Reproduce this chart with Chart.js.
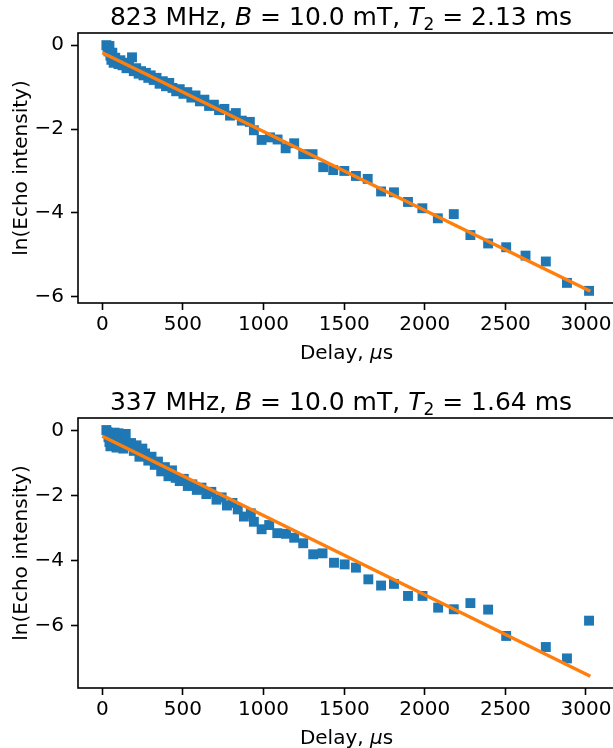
<!DOCTYPE html>
<html lang="en">
<head>
<meta charset="UTF-8">
<title>Echo decay, 823 MHz and 337 MHz</title>
<script src="https://cdn.jsdelivr.net/npm/chart.js"></script>
<style>
  body { margin: 0; width: 613px; height: 748px; overflow: hidden; background: #fff; position: relative;
         font-family: "DejaVu Sans", sans-serif; color: #000; }
  .panel { position: absolute; left: 0; width: 616px; height: 385px; }
  .panel canvas { position: absolute; left: 0; top: 0; }
  .title { position: absolute; left: 78px; width: 526px; top: 4px; text-align: center;
           font-size: 25px; line-height: 25px; white-space: nowrap; }
  .title sub { font-size: 17px; line-height: 0; vertical-align: -5px; }
  .xlabel { position: absolute; left: 78px; width: 537px; top: 342px; text-align: center;
            font-size: 20px; line-height: 20px; white-space: nowrap; }
</style>
</head>
<body>
<div class="panel" style="top:0">
  <canvas id="chart823" width="616" height="385"></canvas>
  <div class="title">823 MHz, <i>B</i> = 10.0 mT, <i>T</i><sub>2</sub> = 2.13 ms</div>
  <div class="xlabel">Delay, <i>μ</i>s</div>
</div>
<div class="panel" style="top:385px">
  <canvas id="chart337" width="616" height="385"></canvas>
  <div class="title">337 MHz, <i>B</i> = 10.0 mT, <i>T</i><sub>2</sub> = 1.64 ms</div>
  <div class="xlabel">Delay, <i>μ</i>s</div>
</div>

<script>
// measured echo decays (delay in us, ln of echo intensity)
const delays823 = [25, 32, 38, 44, 50, 56, 62, 70, 80, 90, 100, 112, 125, 138, 150, 165, 184, 195, 210, 225,
  240, 255, 270, 285, 300, 318, 336, 355, 375, 395, 415, 435, 458, 480, 503, 527, 552, 578, 605, 633,
  662, 692, 724, 757, 792, 828, 865, 915, 940, 988, 1040, 1087, 1137, 1190, 1246, 1304, 1370, 1432,
  1501, 1573, 1646, 1729, 1809, 1896, 1985, 2081, 2180, 2283, 2393, 2505, 2625, 2751, 2882, 3019];
const lnEcho823 = [0.00, -0.05, -0.15, -0.02, -0.25, -0.35, -0.18, -0.42, -0.30, -0.38, -0.45, -0.36, -0.48, -0.42,
  -0.55, -0.50, -0.29, -0.62, -0.55, -0.68, -0.62, -0.72, -0.66, -0.78, -0.72, -0.83, -0.78, -0.92, -0.86,
  -0.98, -0.90, -1.02, -1.10, -1.05, -1.16, -1.12, -1.25, -1.20, -1.34, -1.30, -1.45, -1.42, -1.55, -1.52,
  -1.68, -1.62, -1.80, -1.83, -2.03, -2.26, -2.20, -2.25, -2.46, -2.34, -2.60, -2.60, -2.91, -2.98,
  -3.00, -3.12, -3.19, -3.49, -3.51, -3.74, -3.89, -4.13, -4.03, -4.53, -4.73, -4.82, -5.02, -5.16, -5.67, -5.86];

const delays337 = [25, 32, 38, 44, 50, 56, 65, 76, 88, 100, 115, 130, 145, 160, 178, 195, 212, 230, 248, 265,
  285, 305, 325, 345, 365, 388, 410, 432, 455, 480, 505, 530, 558, 586, 615, 645, 676, 708, 740, 773,
  807, 840, 878, 921, 940, 988, 1035, 1085, 1139, 1190, 1246, 1308, 1366, 1437, 1503, 1573, 1650,
  1729, 1809, 1896, 1986, 2083, 2180, 2283, 2393, 2505, 2751, 2882, 3019];
const lnEcho337 = [0.02, -0.05, -0.20, -0.35, -0.48, -0.12, -0.28, -0.06, -0.52, -0.08, -0.30, -0.55, -0.10, -0.40,
  -0.38, -0.62, -0.45, -0.80, -0.55, -0.70, -0.92, -0.80, -1.05, -0.95, -1.25, -1.12, -1.40, -1.22, -1.45,
  -1.55, -1.48, -1.70, -1.65, -1.82, -1.75, -1.95, -1.88, -2.12, -2.05, -2.30, -2.22, -2.42, -2.64, -2.54,
  -2.80, -3.03, -2.90, -3.15, -3.17, -3.29, -3.46, -3.80, -3.77, -4.06, -4.11, -4.21, -4.57,
  -4.76, -4.71, -5.08, -5.08, -5.44, -5.49, -5.30, -5.50, -6.31, -6.65, -7.00, -5.84];

// linear fits (end points)
const fitDelays = [0, 3027];
const fit823 = [-0.18, -5.87];
const fit337 = [-0.17, -7.55];

const xTicks = [0, 500, 1000, 1500, 2000, 2500, 3000];
const yTicks = [0, -2, -4, -6];
const xRange = [-151, 3180];
const yRange823 = [-6.15, 0.29];
const yRange337 = [-7.91, 0.39];

const FONT = 'DejaVu Sans';

// draw the full axes box (matplotlib style)
const boxPlugin = {
  id: 'box',
  afterDraw(chart) {
    const { ctx, chartArea: a } = chart;
    ctx.save();
    ctx.strokeStyle = '#000';
    ctx.lineWidth = 1.6;
    ctx.strokeRect(a.left, a.top, a.right - a.left, a.bottom - a.top);
    ctx.restore();
  }
};

function makeChart(id, delays, lnEcho, fit, yRange) {
  const points = delays.map((d, i) => ({ x: d, y: lnEcho[i] }));
  const fitLine = fitDelays.map((d, i) => ({ x: d, y: fit[i] }));
  const tickGrid = { drawOnChartArea: false, tickLength: 7, tickWidth: 1.6, tickColor: '#000' };

  return new Chart(document.getElementById(id), {
    type: 'scatter',
    data: {
      datasets: [
        { data: fitLine, showLine: true, borderColor: '#ff7f0e', borderWidth: 3.5, pointRadius: 0 },
        { data: points, pointStyle: 'rect', pointRadius: 7, pointBorderWidth: 0,
          backgroundColor: '#1f77b4', borderColor: '#1f77b4' }
      ]
    },
    options: {
      responsive: false,
      animation: false,
      layout: { autoPadding: false, padding: { top: 33, right: 1, left: 0, bottom: 0 } },
      plugins: { legend: { display: false }, tooltip: { enabled: false } },
      scales: {
        x: {
          type: 'linear', min: xRange[0], max: xRange[1],
          afterFit: s => { s.height = 82; },
          afterBuildTicks: s => { s.ticks = xTicks.map(v => ({ value: v })); },
          grid: tickGrid,
          border: { display: false },
          ticks: {
            font: { family: FONT, size: 20 }, color: '#000', padding: 3, maxRotation: 0, autoSkip: false,
            callback: v => String(v)
          }
        },
        y: {
          type: 'linear', min: yRange[0], max: yRange[1],
          afterFit: s => { s.width = 78; },
          afterBuildTicks: s => { s.ticks = yTicks.map(v => ({ value: v })); },
          grid: tickGrid,
          border: { display: false },
          ticks: {
            font: { family: FONT, size: 20 }, color: '#000', padding: 7, autoSkip: false,
            callback: v => (v < 0 ? '\u2212' + Math.abs(v) : String(v))
          },
          title: {
            display: true, text: 'ln(Echo intensity)', color: '#000',
            font: { family: FONT, size: 20 }, padding: { top: 10, bottom: 0 }
          }
        }
      }
    },
    plugins: [boxPlugin]
  });
}

makeChart('chart823', delays823, lnEcho823, fit823, yRange823);
makeChart('chart337', delays337, lnEcho337, fit337, yRange337);
</script>
</body>
</html>
